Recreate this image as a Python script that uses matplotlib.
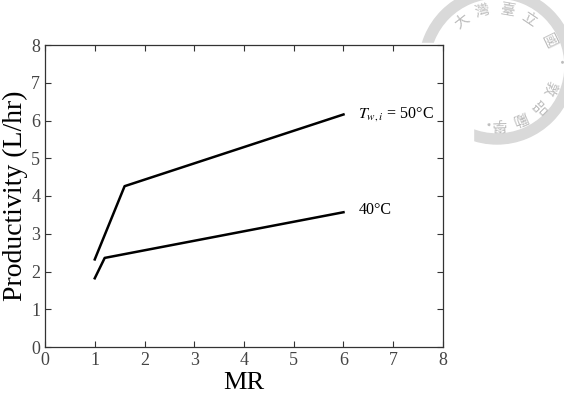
import matplotlib
matplotlib.use("Agg")
import numpy as np
import matplotlib.pyplot as plt
from matplotlib.patches import Wedge, Rectangle

plt.rcParams['font.family'] = ['Liberation Serif', 'DejaVu Serif']
plt.rcParams['mathtext.fontset'] = 'stix'

# données
mr_50 = [1.0, 1.6, 6.0]
prod_50 = [2.32, 4.26, 6.16]
mr_40 = [1.0, 1.2, 6.0]
prod_40 = [1.82, 2.36, 3.57]
label_50 = r'$T_{w,i}$ = 50°C'
label_40 = '40°C'

# caractères du sceau (filigrane) et leur angle sur le cercle, en degrés
sceau_car = ['大', '灣', '臺', '立', '國', '·', '敦', '品', '勵', '學', '·', '愛']
sceau_angle = [128, 105, 80, 56, 26, 0, -22, -45, -66, -88, -108, -128]

W, H = 564, 409
fig = plt.figure(figsize=(W / 100, H / 100), dpi=100)
tr = fig.dpi_scale_trans

# filigrane en haut à droite (coordonnées en pixels depuis le haut, converties en pouces)
cx, cy = 4.97, (H - 66) / 100
fig.patches.append(Wedge((cx, cy), 0.78, 0, 360, width=0.10, transform=tr,
                         color='#d9d9d9', zorder=-3))
for c, a in zip(sceau_car, sceau_angle):
    t = np.deg2rad(a)
    fig.text(cx + 0.57 * np.cos(t), cy + 0.57 * np.sin(t), c, transform=tr,
             fontsize=10.5, color='#bcbcbc', ha='center', va='center',
             rotation=a - 90, family=['Noto Sans CJK TC', 'DejaVu Sans'], zorder=-3)
# le graphique est collé sur le sceau : fond blanc qui le masque
fig.patches.append(Rectangle((0, 0), 473 / 100, (H - 43) / 100, transform=tr,
                             color='white', zorder=-2))

ax = fig.add_axes([45 / W, 62 / H, 398 / W, 302 / H])
ax.patch.set_alpha(0)
ax.plot(mr_50, prod_50, color='black', lw=1.8)
ax.plot(mr_40, prod_40, color='black', lw=1.8)

ax.text(6.3, prod_50[-1], label_50, fontsize=11.5, va='center', ha='left')
ax.text(6.3, prod_40[-1] + 0.05, label_40, fontsize=11.5, va='center', ha='left')

ax.set_xlim(0, 8)
ax.set_ylim(0, 8)
ax.set_xticks(range(0, 9))
ax.set_yticks(range(0, 9))
ax.tick_params(direction='in', top=True, right=True, length=4, width=0.8,
               labelsize=13, colors='#333333', labelcolor='#444444')
for s in ax.spines.values():
    s.set_color('#333333')
    s.set_linewidth(0.9)

ax.set_xlabel('MR', fontsize=19, labelpad=2)
ax.set_ylabel('Productivity (L/hr)', fontsize=20, labelpad=2)

fig.savefig('out.png', dpi=100)
